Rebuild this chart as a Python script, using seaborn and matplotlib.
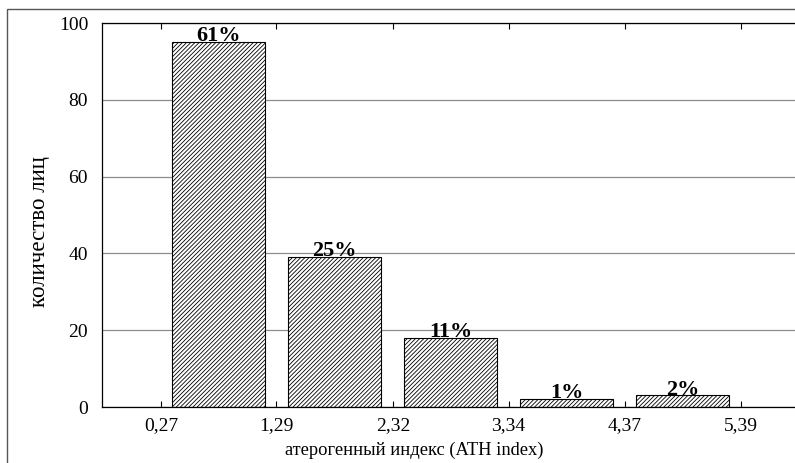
import numpy as np
import pandas as pd
import matplotlib.pyplot as plt
import matplotlib.patches as mpatches
import seaborn as sns

# bin edges of the ATH index (tick labels) and counts per bin
bin_edges = [0.27, 1.29, 2.32, 3.34, 4.37, 5.39]
edge_labels = ["0,27", "1,29", "2,32", "3,34", "4,37", "5,39"]
counts = [95, 39, 18, 2, 3]
percent_labels = ["61%", "25%", "11%", "1%", "2%"]

centers = [(a + b) / 2 for a, b in zip(bin_edges[:-1], bin_edges[1:])]
df = pd.DataFrame({"ath": centers, "n": counts})

sns.set_style("white")
plt.rcParams["font.family"] = ["Liberation Serif", "DejaVu Serif"]
plt.rcParams["hatch.linewidth"] = 0.6
plt.rcParams["text.color"] = "black"
plt.rcParams["axes.labelcolor"] = "black"
plt.rcParams["xtick.color"] = "black"
plt.rcParams["ytick.color"] = "black"

fig = plt.figure(figsize=(7.95, 4.63), dpi=100)
ax = fig.add_axes([102 / 795, 56 / 463, 1 - 102 / 795, 384 / 463])

sns.barplot(data=df, x="ath", y="n", native_scale=True, width=0.8,
            color="white", edgecolor="black", linewidth=0.8, ax=ax)
for p in ax.patches:
    p.set_hatch("////////")

ax.bar_label(ax.containers[0], labels=percent_labels, padding=-3,
             fontsize=16, fontweight="bold", color="black")

ax.set_xlim(-0.25, 5.87)
ax.set_ylim(0, 100)
ax.set_xticks(bin_edges)
ax.set_xticklabels(edge_labels)
ax.set_yticks([0, 20, 40, 60, 80, 100])
ax.tick_params(axis="x", direction="in", length=4, top=True, bottom=True,
               labelsize=14, pad=7)
ax.tick_params(axis="y", length=0, labelsize=14, pad=10)
ax.yaxis.grid(True, color="#8c8c8c", linewidth=0.9)
ax.set_axisbelow(True)
for s in ["left", "top", "bottom"]:
    ax.spines[s].set_color("black")
    ax.spines[s].set_linewidth(0.9)
ax.spines["right"].set_visible(False)

ax.set_xlabel("атерогенный индекс (ATH index)", fontsize=13.3, va="center")
ax.xaxis.set_label_coords(0.450, -0.112)
ax.set_ylabel("количество лиц", fontsize=16.5, va="center")
ax.yaxis.set_label_coords(-0.0895, 0.456)

# outer frame of the figure
fig.patches.append(mpatches.Rectangle((7 / 795, -0.02), 1.0, 0.02 + (463 - 9) / 463,
                                      transform=fig.transFigure, fill=False,
                                      edgecolor="#555555", linewidth=1.0))

fig.savefig("out.png", dpi=100)
